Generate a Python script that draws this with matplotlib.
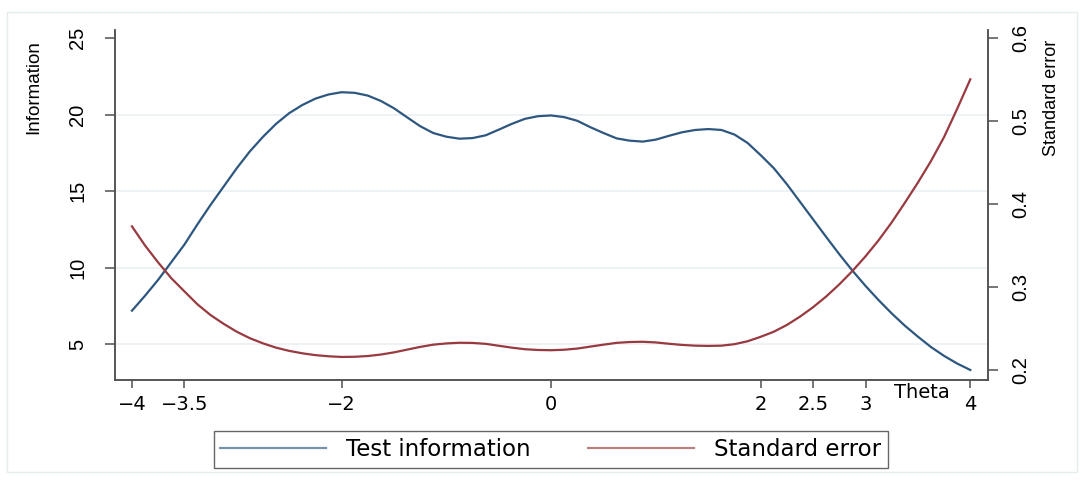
import numpy as np
import matplotlib.pyplot as plt
from matplotlib.patches import Rectangle

# theta grid, step 0.125
theta = np.linspace(-4, 4, 65)

# test information
information = [7.18, 8.16, 9.2, 10.35, 11.5, 12.83, 14.1, 15.3, 16.5,
               17.6, 18.55, 19.4, 20.1, 20.63, 21.05, 21.32, 21.47,
               21.43, 21.25, 20.9, 20.42, 19.83, 19.25, 18.8, 18.56,
               18.43, 18.47, 18.65, 19.02, 19.4, 19.73, 19.9, 19.95,
               19.84, 19.6, 19.18, 18.8, 18.45, 18.3, 18.24, 18.37,
               18.62, 18.85, 19.0, 19.06, 19.0, 18.7, 18.15, 17.35,
               16.5, 15.45, 14.3, 13.15, 12.0, 10.87, 9.8, 8.8,
               7.87, 7.0, 6.2, 5.48, 4.8, 4.22, 3.72, 3.3]

# standard error
std_error = [0.3732, 0.3501, 0.3297, 0.3108, 0.2949, 0.2792, 0.2663,
             0.2557, 0.2462, 0.2384, 0.2322, 0.2270, 0.2231, 0.2202,
             0.2180, 0.2166, 0.2158, 0.2160, 0.2169, 0.2187, 0.2213,
             0.2246, 0.2279, 0.2306, 0.2321, 0.2329, 0.2327, 0.2316,
             0.2293, 0.2270, 0.2251, 0.2242, 0.2239, 0.2245, 0.2259,
             0.2283, 0.2306, 0.2328, 0.2338, 0.2341, 0.2333, 0.2317,
             0.2303, 0.2294, 0.2291, 0.2294, 0.2312, 0.2347, 0.2401,
             0.2462, 0.2544, 0.2644, 0.2758, 0.2887, 0.3033, 0.3194,
             0.3371, 0.3565, 0.3780, 0.4016, 0.426, 0.452, 0.481,
             0.515, 0.5505]

x_ticks = [-4, -3.5, -2, 0, 2, 2.5, 3, 4]
x_labels = ["\u22124", "\u22123.5", "\u22122", "0", "2", "2.5", "3", "4"]
info_ticks = [5, 10, 15, 20, 25]
se_ticks = [0.2, 0.3, 0.4, 0.5, 0.6]

blue = "#2e5780"
red = "#983a40"
axis_col = "#505050"
narrow = ["Liberation Sans Narrow", "Liberation Sans", "DejaVu Sans"]

W, H = 1084, 480
fig = plt.figure(figsize=(W / 100, H / 100), dpi=100)
fig.patch.set_facecolor("white")

# faint outer frame
fig.patches.append(Rectangle((7 / W, 1 - 472 / H), 1070 / W, 460 / H,
                             transform=fig.transFigure, fill=False,
                             edgecolor="#e4ecef", lw=1.0))

ax = fig.add_axes([115 / W, 100 / H, 873 / W, 350 / H])
ax2 = ax.twinx()

ax.set_xlim(-4.162, 4.169)
ax.set_ylim(2.644, 25.54)
ax2.set_ylim(0.188, 0.61)

for v in info_ticks[:-1]:
    ax.axhline(v, color="#edf2f5", lw=1.4, zorder=0)

l1, = ax.plot(theta, information, color=blue, lw=1.6, label="Test information")
l2, = ax2.plot(theta, std_error, color=red, lw=1.6, label="Standard error")

for a in (ax, ax2):
    a.spines["top"].set_visible(False)
    for s in ("left", "right", "bottom"):
        a.spines[s].set_color(axis_col)
        a.spines[s].set_linewidth(1.1)

ax.set_xticks(x_ticks)
ax.set_xticklabels(x_labels, fontsize=14, family="DejaVu Sans")
ax.tick_params(axis="x", length=6, width=1.1, color=axis_col, pad=5)

ax.set_yticks(info_ticks)
ax.set_yticklabels([str(v) for v in info_ticks], fontsize=14.5, family=narrow,
                   rotation=90, va="center")
ax.tick_params(axis="y", length=7, width=1.1, color=axis_col, pad=13)

ax2.set_yticks(se_ticks)
ax2.set_yticklabels([f"{v:.1f}" for v in se_ticks], fontsize=14.5, family=narrow,
                    rotation=90, va="center")
ax2.tick_params(axis="y", length=7, width=1.1, color=axis_col, pad=10)

fig.text(34 / W, 1 - 40 / H, "Information", rotation=90, ha="center",
         va="top", fontsize=13.5, family=narrow)
fig.text(1052 / W, 1 - 40 / H, "Standard error", rotation=90, ha="center",
         va="top", fontsize=13, family=narrow)
fig.text(922 / W, 1 - 398 / H, "Theta", ha="center", va="baseline",
         fontsize=14, family="DejaVu Sans")

leg = fig.legend(handles=[l1, l2], loc="center", ncol=2,
                 bbox_to_anchor=(551 / W, 1 - 449.5 / H),
                 prop={"family": "DejaVu Sans", "size": 16.5},
                 frameon=True, fancybox=False, handlelength=4.6,
                 handletextpad=0.9, columnspacing=2.5, borderpad=0.3,
                 borderaxespad=0.0)
leg.get_frame().set_edgecolor("#404040")
leg.get_frame().set_linewidth(1.0)
for h in leg.legend_handles:
    h.set_alpha(0.65)

fig.savefig("out.png", dpi=100)
